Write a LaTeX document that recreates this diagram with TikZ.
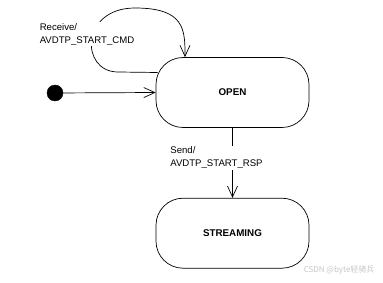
\documentclass[tikz,border=0pt]{standalone}
\usepackage{fontspec}
\setmainfont{Liberation Sans}
\newfontfamily\cjk{Noto Sans CJK SC}
\usetikzlibrary{arrows.meta, positioning, calc}

\begin{document}
\begin{tikzpicture}[
    x=1pt, y=-1pt,
    state/.style={rectangle, rounded corners=27pt, minimum width=153pt, minimum height=70pt, text centered, draw=black, line width=0.7pt, font=\fontsize{9.8}{11}\selectfont\bfseries},
    lbl/.style={fill=white, align=left, inner sep=1pt, font=\fontsize{9.6}{13}\selectfont},
    arrow/.style={line width=0.7pt, -{Straight Barb[length=11pt, width=10pt]}}
]
    \useasboundingbox (0,0) rectangle (383,283);

    \node[state] (open) at (232.5,92.5) {OPEN};
    \node[state, below=70pt of open] (streaming) {STREAMING};
    \node[circle, fill=black, draw=black, minimum size=16pt, inner sep=0pt] (init) at (55,93) {};

    % self loop on OPEN
    \draw[arrow] ([shift={(2,-20)}]open.west) -- (118,72)
        .. controls (80,72) and (80,8) .. (135,8)
        .. controls (185,8) and (185,30) .. ([xshift=-47.5pt]open.north);
    \node[lbl] (recv) at (87,34) {Receive/\\AVDTP\_START\_CMD};

    \draw[arrow] (init) -- (open.west);
    \draw[arrow] (open) -- node[lbl, pos=0.43, xshift=-16pt] (send) {Send/\\AVDTP\_START\_RSP} (streaming);

    \node[text=gray!45, font=\cjk\fontsize{8}{9}\selectfont, anchor=east] (mark) at (378,270) {CSDN @byte轻骑兵};
\end{tikzpicture}
\end{document}
